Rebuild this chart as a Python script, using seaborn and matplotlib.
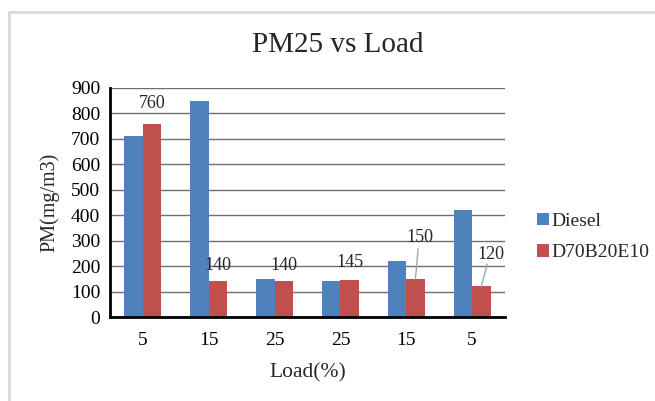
import matplotlib
matplotlib.use("Agg")
import matplotlib.pyplot as plt
import seaborn as sns
import pandas as pd
from matplotlib.patches import Patch
from matplotlib.lines import Line2D

loads = ["5", "15", "25", "25", "15", "5"]
diesel = [710, 850, 150, 140, 220, 420]
blend = [760, 140, 140, 145, 150, 120]
series = ["Diesel", "D70B20E10"]
colors = ["#4F81BD", "#C0504D"]

sns.set_theme(style="white")
plt.rcParams["font.family"] = ["Liberation Serif", "DejaVu Serif"]

pos = [str(i) for i in range(len(loads))]
df = pd.DataFrame({
    "pos": pos * 2,
    "value": diesel + blend,
    "series": [series[0]] * len(pos) + [series[1]] * len(pos),
})

fig = plt.figure(figsize=(6.55, 4.01), dpi=100)
ax = fig.add_axes([110/655, 1-317/401, (505-110)/655, (317-88)/401])

sns.barplot(data=df, x="pos", y="value", hue="series", order=pos,
            hue_order=series, palette=colors, width=0.56, saturation=1,
            ax=ax, legend=False, linewidth=0)

ax.set_xlim(-0.5, len(pos) - 0.5)
ax.set_ylim(0, 900)
ax.set_yticks(range(0, 901, 100))
ax.set_xticks(range(len(pos)))
ax.set_xticklabels(loads)
ax.tick_params(axis="both", labelsize=14, colors="black", direction="out",
               length=4, width=1.5, pad=3)
ax.tick_params(axis="x", pad=7)
ax.yaxis.grid(True, color="#6f6f6f", linewidth=1)
ax.set_axisbelow(True)
for s in ["top", "right"]:
    ax.spines[s].set_visible(False)
for s in ["left", "bottom"]:
    ax.spines[s].set_color("black")
    ax.spines[s].set_linewidth(2)
ax.set_xlabel("Load(%)", fontsize=15.5, labelpad=10)
ax.set_ylabel("PM(mg/m3)", fontsize=14.5, labelpad=8)

# data labels for blend series
offset = 0.14
label_dy = [22, 18, 18, 20, 46, 36]
label_dx = [0, 0, 0, 0, 0.06, 0.14]
for i, v in enumerate(blend):
    bx = i + offset
    tx = bx + label_dx[i]
    ty = v + label_dy[i] * 900 / 229 * 0.9
    ax.text(tx, ty, str(v), ha="center", va="center", fontsize=13)
    if label_dx[i] != 0:
        ax.plot([bx, tx - 0.02 if i == 4 else tx - 0.05], [v, ty - 45 if i == 4 else ty - 40],
                color="#a6a6a6", linewidth=1)

fig.suptitle("PM25 vs Load", x=338/655, y=1-45/401, va="center", fontsize=21)

handles = [Patch(facecolor=c, edgecolor="none") for c in colors]
fig.legend(handles, series, loc="center left", bbox_to_anchor=(537/655, 1-237/401),
           frameon=False, fontsize=14, handlelength=0.6, handleheight=0.6,
           handletextpad=0.15, labelspacing=0.75, borderpad=0, borderaxespad=0)

# outer frame
fig.add_artist(Line2D([9/655, 9/655], [0, 1-12/401], transform=fig.transFigure,
                      color="#d9d9d9", linewidth=2))
fig.add_artist(Line2D([9/655, 1], [1-12/401, 1-12/401], transform=fig.transFigure,
                      color="#d9d9d9", linewidth=2))

fig.savefig("out.png", dpi=100)
